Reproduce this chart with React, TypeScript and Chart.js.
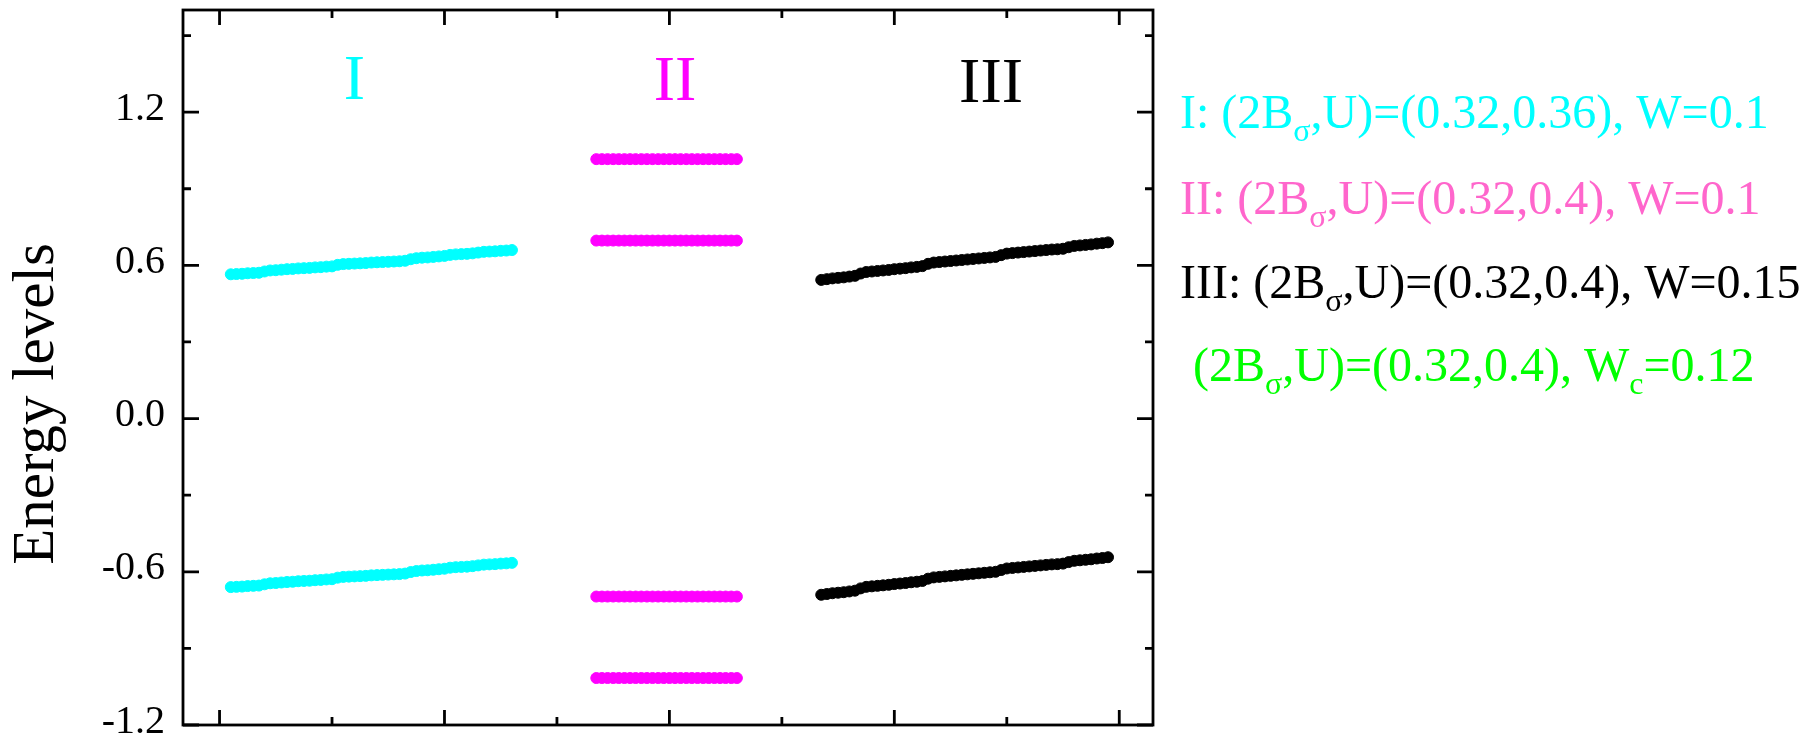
import React, { useEffect, useRef } from "react";
import { Chart, registerables } from "chart.js";

Chart.register(...registerables);

const SERIF = '"Liberation Serif", "Times New Roman", Times, serif';

// State indices where each band starts
const cyanStart = 2;
const magentaStart = 67;
const blackStart = 107;

// I: (2B,U)=(0.32,0.36), W=0.1
const cyanUpper = [
  0.565, 0.566, 0.567, 0.569, 0.570, 0.571, 0.576, 0.580, 0.581, 0.583, 0.585,
  0.586, 0.588, 0.589, 0.590, 0.592, 0.593, 0.595, 0.596, 0.602, 0.605, 0.606,
  0.607, 0.608, 0.609, 0.611, 0.612, 0.613, 0.614, 0.615, 0.616, 0.618, 0.624,
  0.628, 0.630, 0.631, 0.633, 0.635, 0.637, 0.641, 0.643, 0.644, 0.645, 0.647,
  0.650, 0.653, 0.654, 0.655, 0.657, 0.658, 0.660,
];
const cyanLower = [
  -0.660, -0.659, -0.658, -0.656, -0.655, -0.654, -0.649, -0.645, -0.644, -0.642,
  -0.640, -0.639, -0.637, -0.636, -0.635, -0.633, -0.632, -0.630, -0.629, -0.623,
  -0.620, -0.619, -0.618, -0.617, -0.616, -0.614, -0.613, -0.612, -0.611, -0.610,
  -0.609, -0.607, -0.601, -0.597, -0.595, -0.594, -0.592, -0.590, -0.588, -0.584,
  -0.582, -0.581, -0.580, -0.578, -0.575, -0.572, -0.571, -0.570, -0.568, -0.567,
  -0.565,
];

// II: (2B,U)=(0.32,0.4), W=0.1 — four flat levels
const magentaTop = [
  1.016, 1.016, 1.016, 1.016, 1.016, 1.016, 1.016, 1.016, 1.016, 1.016, 1.016, 1.016, 1.016,
  1.016, 1.016, 1.016, 1.016, 1.016, 1.016, 1.016, 1.016, 1.016, 1.016, 1.016, 1.016, 1.016,
];
const magentaUpper = [
  0.697, 0.697, 0.697, 0.697, 0.697, 0.697, 0.697, 0.697, 0.697, 0.697, 0.697, 0.697, 0.697,
  0.697, 0.697, 0.697, 0.697, 0.697, 0.697, 0.697, 0.697, 0.697, 0.697, 0.697, 0.697, 0.697,
];
const magentaLower = [
  -0.697, -0.697, -0.697, -0.697, -0.697, -0.697, -0.697, -0.697, -0.697, -0.697, -0.697, -0.697, -0.697,
  -0.697, -0.697, -0.697, -0.697, -0.697, -0.697, -0.697, -0.697, -0.697, -0.697, -0.697, -0.697, -0.697,
];
const magentaBottom = [
  -1.016, -1.016, -1.016, -1.016, -1.016, -1.016, -1.016, -1.016, -1.016, -1.016, -1.016, -1.016, -1.016,
  -1.016, -1.016, -1.016, -1.016, -1.016, -1.016, -1.016, -1.016, -1.016, -1.016, -1.016, -1.016, -1.016,
];

// III: (2B,U)=(0.32,0.4), W=0.15
const blackUpper = [
  0.543, 0.546, 0.549, 0.551, 0.553, 0.556, 0.559, 0.568, 0.574, 0.576, 0.578,
  0.580, 0.582, 0.585, 0.587, 0.589, 0.592, 0.594, 0.597, 0.606, 0.611, 0.613,
  0.615, 0.617, 0.619, 0.621, 0.623, 0.625, 0.627, 0.629, 0.631, 0.633, 0.640,
  0.646, 0.648, 0.650, 0.652, 0.654, 0.656, 0.658, 0.660, 0.662, 0.663, 0.665,
  0.671, 0.676, 0.678, 0.680, 0.682, 0.685, 0.687, 0.690,
];
const blackLower = [
  -0.690, -0.687, -0.684, -0.682, -0.680, -0.677, -0.674, -0.665, -0.659, -0.657,
  -0.655, -0.653, -0.651, -0.648, -0.646, -0.644, -0.641, -0.639, -0.636, -0.627,
  -0.622, -0.620, -0.618, -0.616, -0.614, -0.612, -0.610, -0.608, -0.606, -0.604,
  -0.602, -0.600, -0.593, -0.587, -0.585, -0.583, -0.581, -0.579, -0.577, -0.575,
  -0.573, -0.571, -0.570, -0.568, -0.562, -0.557, -0.555, -0.553, -0.551, -0.548,
  -0.546, -0.543,
];

// Axis tick values
const yMajorTicks = [-1.2, -0.6, 0, 0.6, 1.2];
const yMinorTicks = [-0.9, -0.3, 0.3, 0.9, 1.5];
const xMajorTicks = [0, 40, 80, 120, 160];
const xMinorTicks = [20, 60, 100, 140];

// Case labels above each group, anchored in data units
const caseLabels = [
  { text: "I", x: 24, y: 1.25, color: "#00ffff" },
  { text: "II", x: 81, y: 1.247, color: "#ff00ff" },
  { text: "III", x: 137.2, y: 1.241, color: "#000000" },
];

// Parameter legend on the right
type Seg = { t: string; sub?: boolean };
const legendLines: { color: string; x: number; y: number; segs: Seg[] }[] = [
  {
    color: "#00ffff", x: 1180, y: 128,
    segs: [{ t: "I: (2B" }, { t: "σ", sub: true }, { t: ",U)=(0.32,0.36), W=0.1" }],
  },
  {
    color: "#ff66cc", x: 1180, y: 214,
    segs: [{ t: "II: (2B" }, { t: "σ", sub: true }, { t: ",U)=(0.32,0.4), W=0.1" }],
  },
  {
    color: "#000000", x: 1180, y: 298,
    segs: [{ t: "III: (2B" }, { t: "σ", sub: true }, { t: ",U)=(0.32,0.4), W=0.15" }],
  },
  {
    color: "#00ff00", x: 1193, y: 381,
    segs: [{ t: "(2B" }, { t: "σ", sub: true }, { t: ",U)=(0.32,0.4), W" }, { t: "c", sub: true }, { t: "=0.12" }],
  },
];

const toPoints = (start: number, ys: number[]) => ys.map((y, i) => ({ x: start + i, y }));

const decorations = {
  id: "decorations",
  afterDraw(chart: any) {
    const { ctx, chartArea, scales } = chart;
    const { left, right, top, bottom } = chartArea;
    const xs = scales.x;
    const ys = scales.y;
    ctx.save();

    // frame with inward ticks on all four sides
    ctx.strokeStyle = "#000";
    ctx.lineWidth = 2.8;
    ctx.strokeRect(left, top, right - left, bottom - top);
    ctx.beginPath();
    const yTick = (v: number, len: number) => {
      const p = ys.getPixelForValue(v);
      ctx.moveTo(left, p); ctx.lineTo(left + len, p);
      ctx.moveTo(right, p); ctx.lineTo(right - len, p);
    };
    const xTick = (v: number, len: number) => {
      const p = xs.getPixelForValue(v);
      ctx.moveTo(p, bottom); ctx.lineTo(p, bottom - len);
      ctx.moveTo(p, top); ctx.lineTo(p, top + len);
    };
    yMajorTicks.forEach((v) => yTick(v, 16));
    yMinorTicks.forEach((v) => yTick(v, 8));
    xMajorTicks.forEach((v) => xTick(v, 15));
    xMinorTicks.forEach((v) => xTick(v, 8));
    ctx.stroke();

    // y-axis title
    ctx.fillStyle = "#000";
    ctx.font = `59px ${SERIF}`;
    ctx.textAlign = "center";
    ctx.textBaseline = "alphabetic";
    ctx.save();
    ctx.translate(53, 404);
    ctx.rotate(-Math.PI / 2);
    ctx.fillText("Energy levels", 0, 0);
    ctx.restore();

    // group labels
    ctx.font = `64px ${SERIF}`;
    caseLabels.forEach((l) => {
      ctx.fillStyle = l.color;
      ctx.fillText(l.text, xs.getPixelForValue(l.x), ys.getPixelForValue(l.y));
    });

    // legend lines
    ctx.textAlign = "left";
    legendLines.forEach((line) => {
      ctx.fillStyle = line.color;
      let cx = line.x;
      line.segs.forEach((s) => {
        ctx.font = s.sub ? `32px ${SERIF}` : `48px ${SERIF}`;
        ctx.fillText(s.t, cx, line.y + (s.sub ? 13 : 0));
        cx += ctx.measureText(s.t).width;
      });
    });
    ctx.restore();
  },
};

export default function App() {
  const canvasRef = useRef<HTMLCanvasElement>(null);

  useEffect(() => {
    const canvas = canvasRef.current;
    if (!canvas) return;
    const pointStyle = (color: string) => ({
      backgroundColor: color,
      borderColor: color,
      pointRadius: 5.5,
      pointBorderWidth: 1,
      pointHoverRadius: 5.5,
      showLine: false,
    });
    const chart = new Chart(canvas, {
      type: "scatter",
      data: {
        datasets: [
          { label: "I upper", data: toPoints(cyanStart, cyanUpper), ...pointStyle("#00ffff") },
          { label: "I lower", data: toPoints(cyanStart, cyanLower), ...pointStyle("#00ffff") },
          { label: "II top", data: toPoints(magentaStart, magentaTop), ...pointStyle("#ff00ff") },
          { label: "II upper", data: toPoints(magentaStart, magentaUpper), ...pointStyle("#ff00ff") },
          { label: "II lower", data: toPoints(magentaStart, magentaLower), ...pointStyle("#ff00ff") },
          { label: "II bottom", data: toPoints(magentaStart, magentaBottom), ...pointStyle("#ff00ff") },
          { label: "III upper", data: toPoints(blackStart, blackUpper), ...pointStyle("#000000") },
          { label: "III lower", data: toPoints(blackStart, blackLower), ...pointStyle("#000000") },
        ],
      },
      options: {
        responsive: false,
        animation: false,
        devicePixelRatio: 1,
        layout: { padding: { left: 0, right: 660, top: 10, bottom: 9 } },
        plugins: { legend: { display: false }, tooltip: { enabled: false } },
        events: [],
        scales: {
          x: { type: "linear", min: -6.5, max: 166, display: false },
          y: {
            type: "linear",
            min: -1.2,
            max: 1.6,
            grid: { display: false, drawTicks: false },
            border: { display: false },
            ticks: {
              stepSize: 0.6,
              includeBounds: false,
              padding: 18,
              labelOffset: -3,
              color: "#000",
              font: { family: SERIF, size: 40 },
              callback: (v: any) => (Math.abs(Number(v)) < 1e-9 ? "0.0" : Number(v).toFixed(1)),
            },
            afterFit: (s: any) => {
              s.width = 183;
              s.paddingTop = 0;
              s.paddingBottom = 0;
            },
          },
        },
      },
      plugins: [decorations],
    });
    return () => chart.destroy();
  }, []);

  return (
    <div style={{ position: "absolute", left: 0, top: 0, width: 1813, height: 734, background: "#fff" }}>
      <canvas ref={canvasRef} width={1813} height={734} />
    </div>
  );
}
